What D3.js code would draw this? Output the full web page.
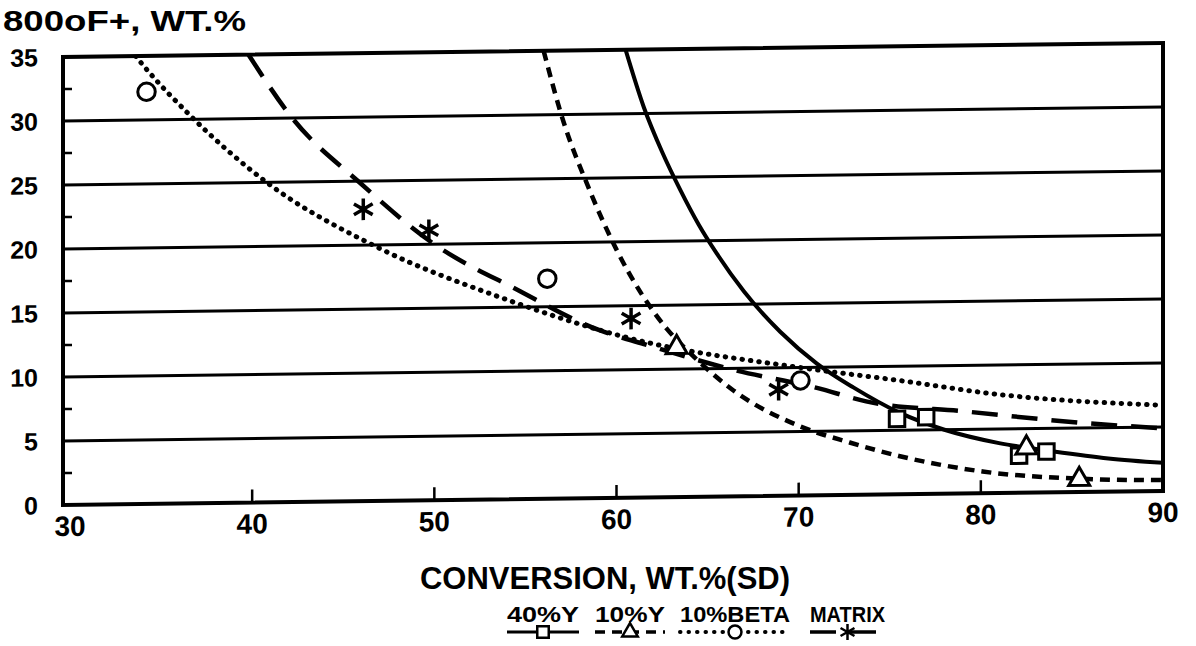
<!DOCTYPE html>
<html>
<head>
<meta charset="utf-8">
<script src="https://d3js.org/d3.v7.min.js"></script>
<style>
  body { margin: 0; background: #fff; }
  text { font-family: "Liberation Sans", Arial, sans-serif; font-weight: bold; fill: #000; }
</style>
</head>
<body>
<div id="chart"></div>
<script>
// canvas
var w = 1196, h = 646;
// plot frame (the scan is slightly skewed, see skewY below)
var frame = {left: 63, right: 1163, top: 57, bottom: 505};

// ---- data ----
var xTicks = [30, 40, 50, 60, 70, 80, 90];
var yTicks = [0, 5, 10, 15, 20, 25, 30, 35];
var yMinor = [2.5, 7.5, 12.5, 17.5, 22.5, 27.5, 32.5];
var seriesNames = ["40%Y", "10%Y", "10%BETA", "MATRIX"];

// fitted curves
var curve40Y = [[60.5,35],[61.5,30.5],[62.5,27],[63.5,24],[64.5,21.3],[65.5,19],[67,16],[69,12.8],[71,10.3],[73,8.4],[75.5,6.4],[78,5.0],[81,3.9],[84,3.2],[87,2.6],[90,2.2]];
var curve10Y = [[56,35],[57.1,29.4],[58.4,24.5],[60,19.4],[62.8,13.1],[64,11.3],[66.4,8.3],[70.1,5.4],[72.8,4.1],[75.5,3.0],[80.1,1.7],[85.3,1.05],[90,0.85]];
var curveBeta = [[33.6,35],[34,34.3],[36.6,30.3],[40.8,25],[46.9,19.8],[53.6,15.8],[60.9,12.4],[70.1,10],[75.5,8.9],[81,7.7],[90,6.7]];
var curveMatrix = [[39.8,35],[42.2,30],[45.9,24.9],[49.9,20.1],[54.5,16.4],[59.1,13.1],[61.5,12],[66.4,9.9],[71,8.4],[73.7,7.3],[79.2,6.4],[85.6,5.4],[90,4.9]];

// measured points
var pts40Y = [[75.4,5.9],[77.0,6.0],[82.1,2.9],[83.6,3.2]];
var pts10Y = [[63.3,11.7],[82.5,3.5],[85.4,1.0]];
var ptsBeta = [[34.2,32.2],[56.2,17.2],[70.1,9.0]];
var ptsMatrix = [[46.1,22.8],[49.7,21.1],[60.8,14.0],[68.9,8.3]];

// ---- scales ----
var xScale = d3.scaleLinear().domain([30, 90]).range([70, frame.right]);
var yScale = d3.scaleLinear().domain([0, 35]).range([frame.bottom, frame.top]);

var series = [
  {name: seriesNames[0], curve: curve40Y, pts: pts40Y, sym: d3.symbolSquare, size: 240, dash: null, width: 4},
  {name: seriesNames[1], curve: curve10Y, pts: pts10Y, sym: d3.symbolTriangle, size: 190, dash: "10,7", width: 4.5},
  {name: seriesNames[2], curve: curveBeta, pts: ptsBeta, sym: d3.symbolCircle, size: 240, dash: "0.5,8", width: 5},
  {name: seriesNames[3], curve: curveMatrix, pts: ptsMatrix, sym: d3.symbolAsterisk, size: 330, dash: "26,14", width: 4.5}
];

var svg = d3.select("#chart").append("svg")
    .attr("width", w)
    .attr("height", h);

svg.append("rect").attr("width", w).attr("height", h).attr("fill", "#fff");

// title
svg.append("text")
    .attr("x", 3).attr("y", 31)
    .attr("font-size", 30)
    .attr("textLength", 243).attr("lengthAdjust", "spacingAndGlyphs")
    .text("800oF+, WT.%");

// skewed plot group, like the scan
var plot = svg.append("g")
    .attr("transform", "translate(" + frame.left + "," + frame.bottom + ") skewY(-0.73) translate(" + (-frame.left) + "," + (-frame.bottom) + ")");

plot.append("clipPath").attr("id", "clip")
  .append("rect")
    .attr("x", frame.left).attr("y", frame.top)
    .attr("width", frame.right - frame.left).attr("height", frame.bottom - frame.top);

// horizontal grid lines
plot.selectAll("line.grid")
    .data(yTicks.filter(function(d) { return d > 0 && d < 35; }))
  .enter().append("line")
    .attr("class", "grid")
    .attr("x1", frame.left).attr("x2", frame.right)
    .attr("y1", function(d) { return yScale(d); })
    .attr("y2", function(d) { return yScale(d); })
    .attr("stroke", "#000").attr("stroke-width", 3);

// minor ticks on the left axis
plot.selectAll("line.ymin")
    .data(yMinor)
  .enter().append("line")
    .attr("x1", frame.left).attr("x2", frame.left + 9)
    .attr("y1", function(d) { return yScale(d); })
    .attr("y2", function(d) { return yScale(d); })
    .attr("stroke", "#000").attr("stroke-width", 2.5);

// x ticks pointing up
plot.selectAll("line.xt")
    .data(xTicks.filter(function(d) { return d > 30 && d < 90; }))
  .enter().append("line")
    .attr("x1", function(d) { return xScale(d); })
    .attr("x2", function(d) { return xScale(d); })
    .attr("y1", frame.bottom).attr("y2", frame.bottom - 13)
    .attr("stroke", "#000").attr("stroke-width", 2.5);

// frame
plot.append("rect")
    .attr("x", frame.left).attr("y", frame.top)
    .attr("width", frame.right - frame.left).attr("height", frame.bottom - frame.top)
    .attr("fill", "none").attr("stroke", "#000").attr("stroke-width", 4);

// tick labels
plot.selectAll("text.yl")
    .data(yTicks)
  .enter().append("text")
    .attr("x", 38)
    .attr("y", function(d) { return yScale(d); })
    .attr("dy", "0.36em")
    .attr("text-anchor", "end")
    .attr("font-size", 25)
    .text(function(d) { return d; });

plot.selectAll("text.xl")
    .data(xTicks)
  .enter().append("text")
    .attr("x", function(d) { return xScale(d); })
    .attr("y", 536)
    .attr("text-anchor", "middle")
    .attr("font-size", 28)
    .text(function(d) { return d; });

// curves
var line = d3.line()
    .x(function(d) { return xScale(d[0]); })
    .y(function(d) { return yScale(d[1]); })
    .curve(d3.curveMonotoneX);

var curves = plot.append("g").attr("clip-path", "url(#clip)");
curves.selectAll("path.curve")
    .data(series)
  .enter().append("path")
    .attr("d", function(d) { return line(d.curve); })
    .attr("fill", "none")
    .attr("stroke", "#000")
    .attr("stroke-width", function(d) { return d.width; })
    .attr("stroke-dasharray", function(d) { return d.dash; })
    .attr("stroke-linecap", function(d) { return d.dash === "0.5,8" ? "round" : "butt"; });

// markers
series.forEach(function(s) {
  plot.selectAll(null)
      .data(s.pts)
    .enter().append("path")
      .attr("transform", function(d) { return "translate(" + xScale(d[0]) + "," + yScale(d[1]) + ")"; })
      .attr("d", d3.symbol().type(s.sym).size(s.size))
      .attr("fill", s.sym === d3.symbolAsterisk ? "none" : "#fff")
      .attr("stroke", "#000")
      .attr("stroke-width", s.sym === d3.symbolAsterisk ? 3.5 : 3);
});

// axis title
svg.append("text")
    .attr("x", 605).attr("y", 589)
    .attr("text-anchor", "middle")
    .attr("font-size", 31)
    .attr("textLength", 370).attr("lengthAdjust", "spacingAndGlyphs")
    .text("CONVERSION, WT.%(SD)");

// legend
var legendX = [507, 595, 680, 810];
var legendW = [72, 70, 110, 75];
var leg = svg.selectAll("g.leg")
    .data(series)
  .enter().append("g")
    .attr("transform", function(d, i) { return "translate(" + legendX[i] + ",0)"; });

leg.append("text")
    .attr("x", 0).attr("y", 622)
    .attr("font-size", 22)
    .attr("textLength", function(d, i) { return legendW[i]; })
    .attr("lengthAdjust", "spacingAndGlyphs")
    .text(function(d) { return d.name; });

leg.append("line")
    .attr("x1", 0).attr("x2", function(d, i) { return legendW[i]; })
    .attr("y1", 632).attr("y2", 632)
    .attr("stroke", "#000")
    .attr("stroke-width", function(d) { return d.width - 1; })
    .attr("stroke-dasharray", function(d) { return d.dash; })
    .attr("stroke-linecap", function(d) { return d.dash === "0.5,8" ? "round" : "butt"; });

leg.append("path")
    .attr("transform", function(d, i) { return "translate(" + (legendW[i] / 2) + ",632)"; })
    .attr("d", function(d) { return d3.symbol().type(d.sym).size(d.size * 0.55)(); })
    .attr("fill", function(d) { return d.sym === d3.symbolAsterisk ? "none" : "#fff"; })
    .attr("stroke", "#000")
    .attr("stroke-width", 2.5);
</script>
</body>
</html>
